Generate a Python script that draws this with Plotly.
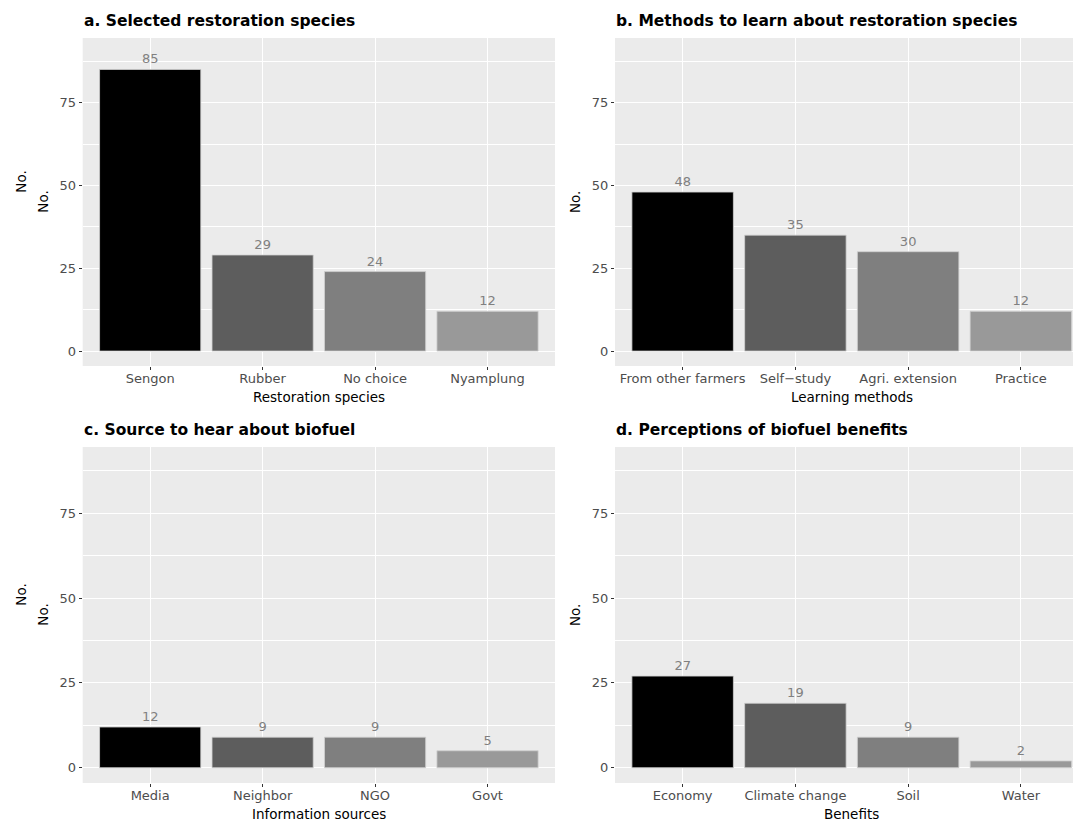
import plotly.graph_objects as go

# ---------------- data ----------------
species = ["Sengon", "Rubber", "No choice", "Nyamplung"]
species_n = [85, 29, 24, 12]

methods = ["From other farmers", "Self\u2212study", "Agri. extension", "Practice"]
methods_n = [48, 35, 30, 12]

sources = ["Media", "Neighbor", "NGO", "Govt"]
sources_n = [12, 9, 9, 5]

benefits = ["Economy", "Climate change", "Soil", "Water"]
benefits_n = [27, 19, 9, 2]

titles = ["a. Selected restoration species",
          "b. Methods to learn about restoration species",
          "c. Source to hear about biofuel",
          "d. Perceptions of biofuel benefits"]
xtitles = ["Restoration species", "Learning methods", "Information sources", "Benefits"]
ytitle = "No."
bar_colors = ["#000000", "#5D5D5D", "#7F7F7F", "#999999"]

# ---------------- layout helpers ----------------
OFF = 8                      # page body margin of the html page
W, H = 1081 - OFF, 823 - OFF
FONT = "DejaVu Sans, Liberation Sans, Arial, sans-serif"


def px(p):
    return (p - OFF) / W


def py(p):
    return 1 - (p - OFF) / H


# panel pixel boxes in page pixels: (left, right, top, bottom, full_right)
panels = [
    (82.7, 555.0, 38, 366, 555.0),
    (615.0, 1081.0, 38, 366, 1088.0),
    (82.7, 555.0, 447, 783, 555.0),
    (615.0, 1081.0, 447, 783, 1088.0),
]

datasets = [(species, species_n), (methods, methods_n),
            (sources, sources_n), (benefits, benefits_n)]

fig = go.Figure()
annotations = []
layout = dict(
    width=W, height=H,
    margin=dict(l=0, r=0, t=0, b=0),
    paper_bgcolor="white",
    plot_bgcolor="#EBEBEB",
    showlegend=False,
    bargap=0.1,
    font=dict(family=FONT),
)

for i, ((cats, vals), (l, r, t, b, fr)) in enumerate(zip(datasets, panels)):
    k = "" if i == 0 else str(i + 1)
    fig.add_trace(go.Bar(
        x=cats, y=vals,
        xaxis="x" + k, yaxis="y" + k,
        marker=dict(color=bar_colors, line=dict(color="#d0d0d0", width=0.8)),
        text=[str(v) for v in vals],
        textposition="outside",
        textfont=dict(family=FONT, size=13, color="#808080"),
        cliponaxis=False,
        width=0.9,
    ))
    step = (fr - l) / 4.2
    xmax = -0.6 + (min(r, 1081 - 0.5) - l) / step
    layout["xaxis" + k] = dict(
        domain=[px(l), min(px(r), 1.0)], anchor="y" + k,
        type="category", range=[-0.6, xmax],
        showgrid=True, gridcolor="white", gridwidth=1.1,
        ticks="outside", ticklen=3, tickcolor="#333333", tickwidth=1,
        ticklabelstandoff=-3,
        tickfont=dict(family=FONT, size=13, color="#4D4D4D"),
        showline=False, zeroline=False, fixedrange=True,
    )
    layout["yaxis" + k] = dict(
        domain=[py(b), py(t)], anchor="x" + k,
        range=[-4.5, 94.5],
        tickmode="linear", tick0=0, dtick=25,
        showgrid=True, gridcolor="white", gridwidth=1.1,
        minor=dict(dtick=12.5, tick0=0, showgrid=True, gridcolor="white", gridwidth=0.5),
        ticks="outside", ticklen=3, tickcolor="#333333", tickwidth=1,
        tickfont=dict(family=FONT, size=13, color="#4D4D4D"),
        showline=False, zeroline=False, fixedrange=True,
    )
    # panel title
    annotations.append(dict(
        text="<b>" + titles[i] + "</b>", xref="paper", yref="paper",
        x=px(l - 1), y=py(t - 17), xanchor="left", yanchor="middle",
        showarrow=False, font=dict(family=FONT, size=15.5, color="black"),
    ))
    # x axis title
    annotations.append(dict(
        text=xtitles[i], xref="paper", yref="paper",
        x=px((l + fr) / 2), y=py(b + 31), xanchor="center", yanchor="middle",
        showarrow=False, font=dict(family=FONT, size=13.5, color="black"),
    ))
    # y axis title
    cy = (t + b) / 2
    annotations.append(dict(
        text=ytitle, xref="paper", yref="paper",
        x=px(l - 40), y=py(cy), xanchor="center", yanchor="middle",
        textangle=-90, showarrow=False,
        font=dict(family=FONT, size=13.5, color="black"),
    ))
    if i in (0, 2):
        # duplicated, shifted label visible in the left panels of the original
        annotations.append(dict(
            text=ytitle, xref="paper", yref="paper",
            x=px(l - 62), y=py(cy - 20), xanchor="center", yanchor="middle",
            textangle=-90, showarrow=False,
            font=dict(family=FONT, size=13.5, color="black"),
        ))

layout["annotations"] = annotations
fig.update_layout(**layout)
fig.write_html("out.html")
